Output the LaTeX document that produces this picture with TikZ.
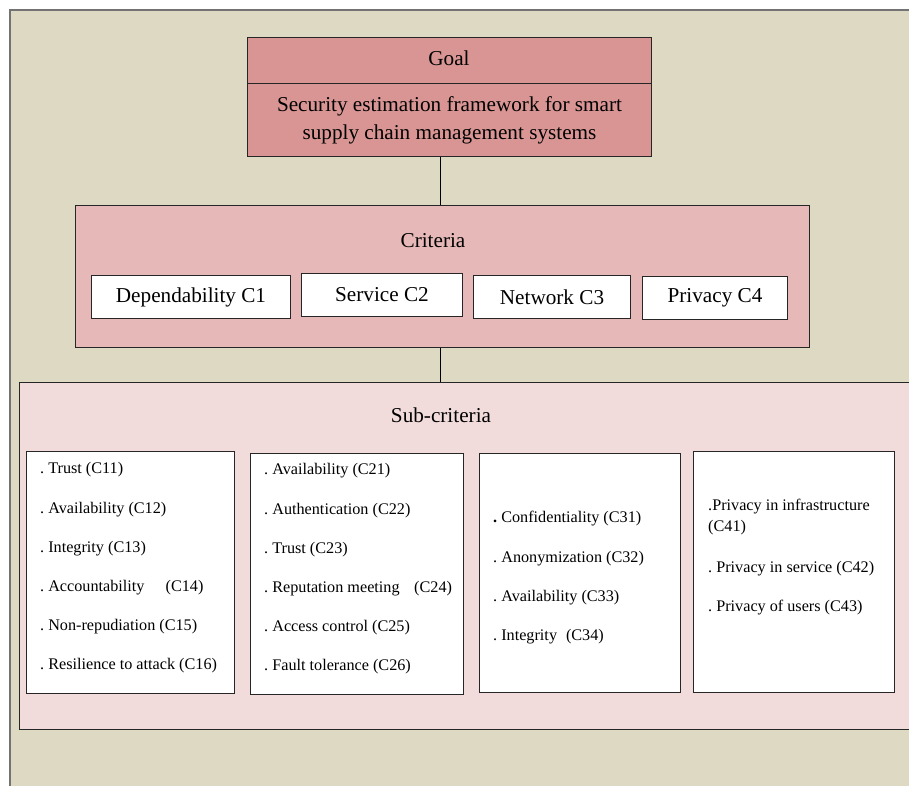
\documentclass[tikz,border=0pt]{standalone}
\usepackage{fontspec}
\setmainfont{Liberation Serif}
\usetikzlibrary{positioning}
\frenchspacing

\definecolor{bgtan}{HTML}{DDD9C3}
\definecolor{goalred}{HTML}{D99594}
\definecolor{critpink}{HTML}{E6B8B7}
\definecolor{subpink}{HTML}{F2DCDB}

\tikzset{
  box/.style={draw=black!85, line width=1pt, anchor=north west, inner sep=0pt},
  big/.style={font=\fontsize{21.2}{28}\selectfont},
  item/.style={anchor=west, inner sep=0pt, font=\fontsize{16.2}{21}\selectfont},
}

\begin{document}
\begin{tikzpicture}[x=1pt,y=-1pt]
  \useasboundingbox (0,0) rectangle (909,786);
  % frame
  \fill[bgtan] (10,10) rectangle (909,786);
  \draw[black!55, line width=1.5pt] (10,786) -- (10,10) -- (909,10);

  % goal
  \node[box, big, fill=goalred, minimum width=404pt, minimum height=46pt] (goal) at (247,37) {};
  \node[big, inner sep=0pt] (goaltitle) at (449,58) {Goal};
  \node[box, big, fill=goalred, minimum width=404pt, minimum height=73pt, align=center] (goaltext) at (247,83)
        {Security estimation framework for smart\\supply chain management systems};

  % criteria
  \node[box, fill=critpink, minimum width=734pt, minimum height=142pt] (crit) at (75,205) {};
  \node[big, inner sep=0pt] (crittitle) at (433,241) {Criteria};
  \node[box, big, fill=white, minimum width=199pt, minimum height=43pt] (c1) at (91,275) {Dependability C1};
  \node[box, big, fill=white, minimum width=161pt, minimum height=43pt] (c2) at (301,273) {Service C2};
  \node[box, big, fill=white, minimum width=157pt, minimum height=43pt] (c3) at (473,275) {Network C3};
  \node[box, big, fill=white, minimum width=145pt, minimum height=43pt] (c4) at (642,276) {Privacy C4};

  % sub-criteria
  \node[box, fill=subpink, minimum width=895pt, minimum height=347pt] (sub) at (19,382) {};
  \node[big, inner sep=0pt] (subtitle) at (441,415) {Sub-criteria};
  \node[box, fill=white, minimum width=208pt, minimum height=242pt] (s1) at (26,451) {};
  \node[box, fill=white, minimum width=213pt, minimum height=241pt] (s2) at (250,453) {};
  \node[box, fill=white, minimum width=201pt, minimum height=239pt] (s3) at (479,453) {};
  \node[box, fill=white, minimum width=201pt, minimum height=241pt] (s4) at (693,451) {};

  \foreach \t [count=\i] in {. Trust (C11), . Availability (C12), . Integrity (C13),
      . Accountability\hspace{1.3em}(C14), . Non-repudiation (C15), . Resilience to attack (C16)}
    \node[item] (s1-\i) at (40,{470+39.2*(\i-1)}) {\t};

  \foreach \t [count=\i] in {. Availability (C21), . Authentication (C22), . Trust (C23),
      . Reputation meeting\hspace{0.9em}(C24), . Access control (C25), . Fault tolerance (C26)}
    \node[item] (s2-\i) at (264,{471+39.2*(\i-1)}) {\t};

  \foreach \t [count=\i] in {{\textbf{.} Confidentiality (C31)}, . Anonymization (C32),
      . Availability (C33), . Integrity\hspace{0.3em} (C34)}
    \node[item] (s3-\i) at (493,{519+39.3*(\i-1)}) {\t};

  \node[item, anchor=north west, align=left] (s4-1) at (708,499) {.Privacy in infrastructure\\(C41)};
  \node[item] (s4-2) at (708,569) {. Privacy in service (C42)};
  \node[item] (s4-3) at (708,608) {. Privacy of users (C43)};

  % links
  \draw[line width=1pt] (crit.north -| 440,0) -- (goaltext.south -| 440,0);
  \draw[line width=1pt] (crit.south -| 440,0) -- (sub.north -| 440,0);
\end{tikzpicture}
\end{document}
